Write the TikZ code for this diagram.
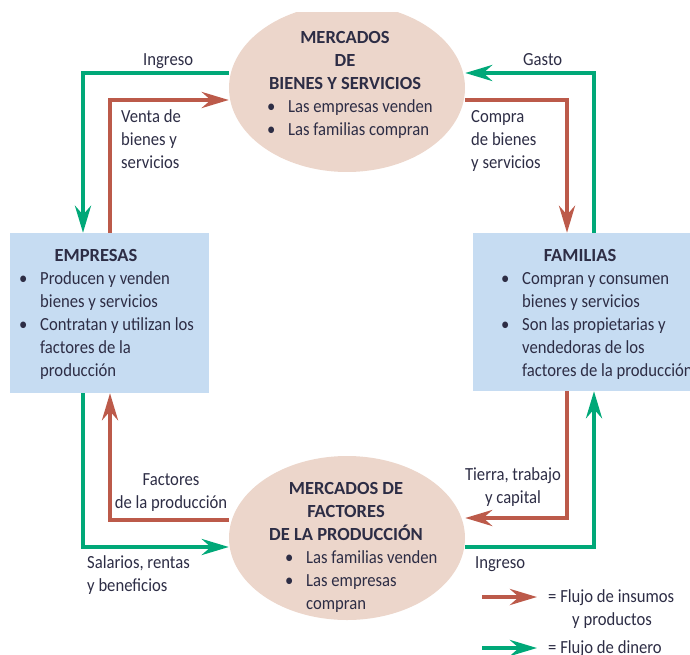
\documentclass[tikz,border=0pt]{standalone}
\usepackage{fontspec}
\setmainfont{Carlito}[FakeStretch=0.9, BoldFeatures={FakeStretch=1.0}]
\usetikzlibrary{arrows.meta,backgrounds,shapes.geometric}
\definecolor{txt}{HTML}{2D2D45}
\definecolor{gflow}{HTML}{00A878}
\definecolor{rflow}{HTML}{BC5A4A}
\definecolor{ellfill}{HTML}{ECD6CB}
\definecolor{boxfill}{HTML}{C6DCF2}
\newcommand{\bulit}{\llap{\makebox[0pt][c]{•}\hspace{17pt}}}
\begin{document}
\begin{tikzpicture}[x=1pt,y=-1pt,
  every node/.style={text=txt, font=\fontsize{18.5}{23}\selectfont, inner sep=0pt},
  market/.style={ellipse, fill=ellfill, minimum width=236pt, minimum height=168pt},
  agent/.style={rectangle, fill=boxfill},
  lbl/.style={align=left, anchor=base west},
  clbl/.style={align=center, anchor=base},
  ttl/.style={clbl, font=\fontsize{18.5}{23}\selectfont\bfseries},
  flow/.style={line width=4.3pt, -{Stealth[length=27pt,width=16pt,inset=9pt]}},
  gline/.style={flow, draw=gflow, color=gflow},
  rline/.style={flow, draw=rflow, color=rflow}]
\useasboundingbox (0,0) rectangle (690,655);
% markets
\begin{scope}
  \clip (0,13) rectangle (690,655);
  \node[market] (bm) at (347,88) {};
\end{scope}
\node[market, minimum height=164pt] (fm) at (347,538) {};
% agents
\node[agent, minimum width=199pt, minimum height=160pt] (emp) at (109.5,313) {};
\node[agent, minimum width=232pt, minimum height=158pt] (fam) at (589,312) {};
% texts in markets (anchor = baseline of last line)
\node[ttl] (bmt) at (345,90) {MERCADOS\\DE\\BIENES Y SERVICIOS};
\node[lbl] (bml) at (288,136) {\bulit Las empresas venden\\\bulit Las familias compran};
\node[ttl] (fmt) at (346,540) {MERCADOS DE\\FACTORES\\DE LA PRODUCCIÓN};
\node[lbl] (fml) at (306,609) {\bulit Las familias venden\\\bulit Las empresas\\compran};
% texts in agents
\node[ttl] (empt) at (96,261) {EMPRESAS};
\node[lbl] (empl) at (40,376) {\bulit Producen y venden\\bienes y servicios\\\bulit Contratan y utilizan los\\factores de la\\producción};
\node[ttl] (famt) at (580,261) {FAMILIAS};
\node[lbl] (faml) at (522,376) {\bulit Compran y consumen\\bienes y servicios\\\bulit Son las propietarias y\\vendedoras de los\\factores de la producción};
% flow labels
\node[lbl] (ing1) at (143,66) {Ingreso};
\node[lbl] (venta) at (121,168) {Venta de\\bienes y\\servicios};
\node[lbl] (gasto) at (523,66) {Gasto};
\node[lbl] (compra) at (471,168) {Compra\\de bienes\\y servicios};
\node[clbl] (fact) at (171,508) {Factores\\de la producción};
\node[lbl] (sal) at (87,591) {Salarios, rentas\\y beneficios};
\node[clbl] (tierra) at (513,503) {Tierra, trabajo\\y capital};
\node[lbl] (ing2) at (475,568) {Ingreso};
% legend
\node[lbl] (leg1) at (548,625) {= Flujo de insumos\\\hspace*{24pt}y productos};
\node[lbl] (leg2) at (548,653) {= Flujo de dinero};
\coordinate (lr1) at (482,597);
\coordinate (lr2) at (537,597);
\coordinate (lg1) at (482,648);
\coordinate (lg2) at (537,648);
\begin{scope}[on background layer]
\draw[gline] (bm.west |- 0,73) -| (emp.north -| 83,0);
\draw[rline] (emp.north -| 110,0) |- (bm.west |- 0,100);
\draw[gline] (fam.north -| 594,0) |- (bm.east |- 0,73);
\draw[rline] (bm.east |- 0,100) -| (fam.north -| 567,0);
\draw[rline] (fam.south -| 567,0) |- (fm.east |- 0,518);
\draw[gline] (fm.east |- 0,547) -| (fam.south -| 594,0);
\draw[rline] (fm.west |- 0,520) -| (emp.south -| 110,0);
\draw[gline] (emp.south -| 83,0) |- (fm.west |- 0,547);
\end{scope}
\draw[rline] (lr1) -- (lr2);
\draw[gline] (lg1) -- (lg2);
\end{tikzpicture}
\end{document}
